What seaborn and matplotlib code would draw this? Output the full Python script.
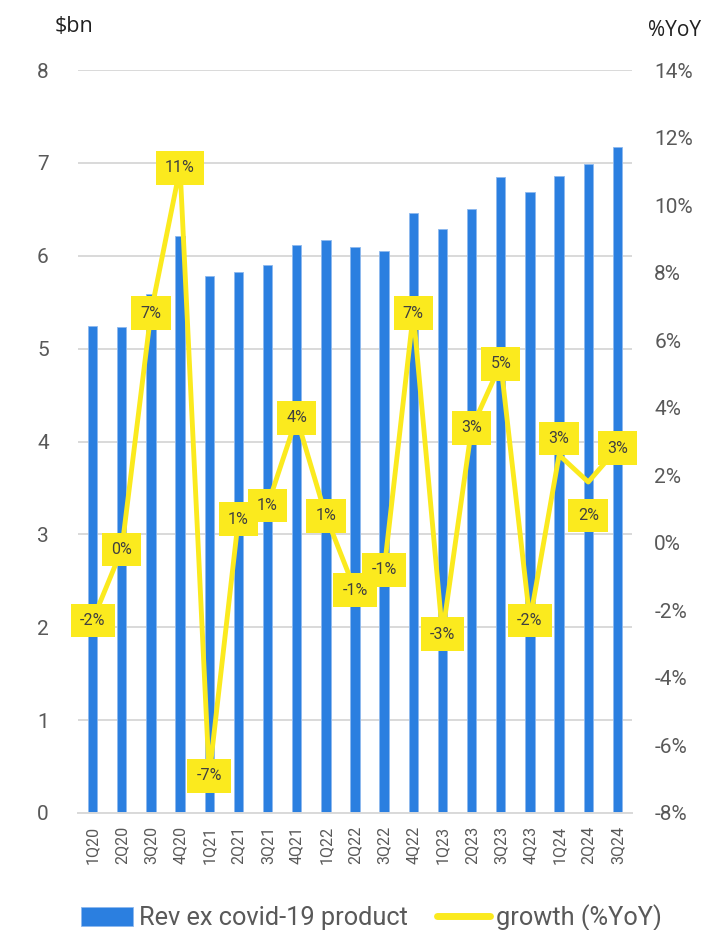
import numpy as np
import pandas as pd
import matplotlib
matplotlib.use("Agg")
import matplotlib.pyplot as plt
import seaborn as sns

quarters = ["1Q20", "2Q20", "3Q20", "4Q20", "1Q21", "2Q21", "3Q21", "4Q21",
            "1Q22", "2Q22", "3Q22", "4Q22", "1Q23", "2Q23", "3Q23", "4Q23",
            "1Q24", "2Q24", "3Q24"]
revenue = [5.24, 5.23, 5.59, 6.21, 5.78, 5.83, 5.90, 6.12,
           6.17, 6.09, 6.05, 6.46, 6.29, 6.50, 6.85, 6.69,
           6.86, 6.99, 7.17]
growth = [-2.3, -0.2, 6.8, 11.1, -6.9, 0.7, 1.1, 3.7,
          0.8, -1.4, -0.8, 6.8, -2.7, 3.4, 5.3, -2.3,
          2.6, 1.8, 2.8]
left_ticks = [0, 1, 2, 3, 4, 5, 6, 7, 8]
right_ticks = [-8, -6, -4, -2, 0, 2, 4, 6, 8, 10, 12, 14]
bar_name = "Rev ex covid-19 product"
line_name = "growth (%YoY)"

BLUE = "#2B7FE0"
YELLOW = "#FBEA1E"
GRAY = "#595959"
GRID = "#D9D9D9"

sns.set_style("white")
plt.rcParams["font.family"] = ["Roboto", "DejaVu Sans"]

df = pd.DataFrame({"q": quarters, "rev": revenue, "g": growth,
                   "pos": np.arange(len(quarters))})

fig = plt.figure(figsize=(7.1, 9.3), dpi=100)
ax = fig.add_axes([78/710, 1 - 813/930, (632-78)/710, (813-70)/930])

sns.barplot(data=df, x="q", y="rev", ax=ax, color=BLUE, width=0.32,
            saturation=1, edgecolor="#8DB9EE", linewidth=0.6, label=bar_name)
if ax.get_legend() is not None:
    ax.get_legend().remove()
ax.set_xlim(-0.5, len(quarters) - 0.5)
ax.set_ylim(0, 8)
ax.set_yticks(left_ticks)
ax.set_yticklabels([str(t) for t in left_ticks])
ax.set_axisbelow(True)
ax.yaxis.grid(True, color=GRID, linewidth=1.4)
ax.set_xlabel("")
ax.set_ylabel("")
for s in ["top", "right", "left"]:
    ax.spines[s].set_visible(False)
ax.spines["bottom"].set_color(GRID)
ax.spines["bottom"].set_linewidth(1.4)
ax.tick_params(axis="y", length=0, pad=21, labelsize=15, labelcolor=GRAY)
ax.tick_params(axis="x", length=0, pad=9, labelsize=11.5, labelcolor=GRAY,
               labelrotation=90)
for lbl in ax.get_xticklabels():
    lbl.set_va("top")

ax2 = ax.twinx()
sns.lineplot(data=df, x="pos", y="g", ax=ax2, color=YELLOW, linewidth=3.5,
             label=line_name, legend=False)
ax2.set_ylim(-8, 14)
ax2.set_yticks(right_ticks)
ax2.set_yticklabels([f"{t}%" for t in right_ticks])
ax2.set_xlabel("")
ax2.set_ylabel("")
for s in ["top", "right", "left", "bottom"]:
    ax2.spines[s].set_visible(False)
ax2.tick_params(axis="y", length=0, pad=16, labelsize=15, labelcolor=GRAY)

offsets = {16: (0, 12), 17: (0, -24)}
for i, v in enumerate(growth):
    dx, dy = offsets.get(i, (0, 0))
    ax2.annotate(f"{int(round(v))}%", (i, v), xytext=(dx, dy),
                 textcoords="offset points", ha="center", va="center",
                 fontsize=11.5, color="#404040", zorder=5,
                 bbox=dict(boxstyle="square,pad=0.58", fc=YELLOW, ec="none"))

fig.text(55/710, 1 - 27/930, "$bn", fontsize=15.5, color="#202020",
         ha="left", va="center", family=["Open Sans", "DejaVu Sans"])
fig.text(648/710, 1 - 31/930, "%YoY", fontsize=15, color="#202020",
         ha="left", va="center", family=["Open Sans", "DejaVu Sans"])

h1, l1 = ax.get_legend_handles_labels()
h2, l2 = ax2.get_legend_handles_labels()
leg = fig.legend(h1 + h2, l1 + l2, loc="center left",
                 bbox_to_anchor=(58/710, 12/930), ncol=2, frameon=False,
                 fontsize=18.3, labelcolor=GRAY, handlelength=2.05,
                 handletextpad=0.25, columnspacing=1.15, handleheight=0.8)
for line in leg.get_lines():
    line.set_linewidth(5)

fig.savefig("out.png", dpi=100)
